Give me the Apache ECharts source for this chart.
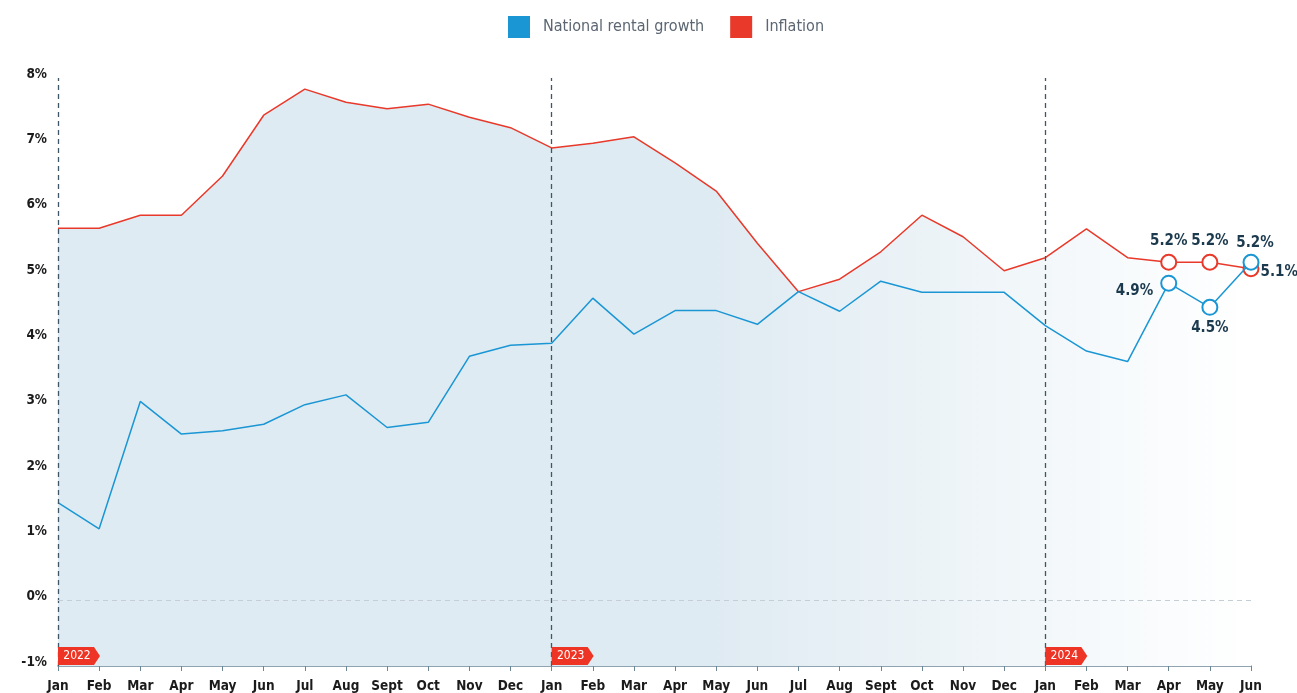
<!DOCTYPE html>
<html><head><meta charset="utf-8">
<script src="https://cdn.jsdelivr.net/npm/echarts@6/dist/echarts.min.js"></script>
<style>html,body{margin:0;padding:0;background:#fff}#c{width:1297px;height:693px}</style>
</head><body><div id="c"></div>
<script>
const months = ['Jan','Feb','Mar','Apr','May','Jun','Jul','Aug','Sept','Oct','Nov','Dec',
  'Jan','Feb','Mar','Apr','May','Jun','Jul','Aug','Sept','Oct','Nov','Dec',
  'Jan','Feb','Mar','Apr','May','Jun'];
const rental = [1.5,1.1,3.05,2.55,2.6,2.7,3.0,3.15,2.65,2.73,3.74,3.91,
  3.94,4.63,4.08,4.44,4.44,4.23,4.73,4.43,4.89,4.72,4.72,4.72,
  4.21,3.82,3.66,4.86,4.49,5.18];
const inflation = [5.7,5.7,5.9,5.9,6.5,7.43,7.83,7.63,7.53,7.6,7.4,7.24,
  6.93,7.0,7.1,6.7,6.27,5.47,4.73,4.92,5.34,5.9,5.57,5.05,
  5.25,5.69,5.25,5.18,5.18,5.08];
const yearStarts = [0,12,24];
const yearNames = ['2022','2023','2024'];
const yTicks = [-1,0,1,2,3,4,5,6,7,8];

const FONT = '"DejaVu Sans Condensed","Liberation Sans",Arial,sans-serif';
const labelColor = '#1c3a4e';

function items(arr, positions) {
  return arr.map((v,i)=>{
    const p = positions[i];
    if (!p) return {value:v, symbol:'none'};
    return {value:v, symbol:'emptyCircle', symbolSize:15,
      label:{show:true, position:p.pos, offset:p.off||[0,0], formatter:v.toFixed(1)+'%', color:labelColor,
        fontFamily:FONT, fontWeight:'bold', fontSize:15, distance:5}};
  });
}
const n = months.length;
const redPos = {}; redPos[n-3]={pos:'top'}; redPos[n-2]={pos:'top'}; redPos[n-1]={pos:'right', off:[-4,3]};
const bluePos = {}; bluePos[n-3]={pos:'left', off:[-2,8]}; bluePos[n-2]={pos:'bottom'}; bluePos[n-1]={pos:'top', off:[4,2]};

const chart = echarts.init(document.getElementById('c'));
chart.setOption({
  animation:false,
  legend:{top:11, left:503, icon:'rect', itemWidth:22, itemHeight:22, itemGap:26,
    textStyle:{fontFamily:FONT, fontSize:16, color:'#5b6672', padding:[0,0,0,8]},
    data:['National rental growth','Inflation']},
  grid:{left:58, right:46, top:78, bottom:27},
  xAxis:{type:'category', data:months, boundaryGap:false,
    axisLine:{onZero:false, lineStyle:{color:'#6b8796', width:1.5}},
    axisTick:{show:true, length:5, lineStyle:{color:'#6b8796'}},
    axisLabel:{interval:0, fontFamily:FONT, fontWeight:'bold', fontSize:13.5, color:'#1b1b1b', margin:13},
    splitLine:{show:false}},
  yAxis:{type:'value', min:-1, max:8, interval:1,
    axisLine:{show:false}, axisTick:{show:false}, splitLine:{show:false},
    axisLabel:{fontFamily:FONT, fontWeight:'bold', fontSize:13.5, color:'#1b1b1b', margin:11,
      verticalAlign:'bottom', lineHeight:8,
      formatter:v=>yTicks.includes(v)?v+'%':''}},
  series:[
    {name:'Inflation', type:'line', data:items(inflation, redPos), symbol:'none', showAllSymbol:true,
      color:'#ee3424',
      lineStyle:{color:'#e8392a', width:1.5},
      itemStyle:{color:'#e8392a', borderWidth:1.5},
      areaStyle:{origin:'start', opacity:1, color:{type:'linear', x:0, y:0, x2:1, y2:0,
        colorStops:[{offset:0,color:'#dfebf2'},{offset:0.55,color:'#dfebf2'},{offset:1,color:'#ffffff'}]}},
      emphasis:{disabled:true},
      markLine:{silent:true, symbol:['none','none'], label:{show:false},
        data:[
          ...yearStarts.map(i=>({xAxis:i, lineStyle:{color:'#3e5666', type:[5,4], width:1.3}})),
          [{coord:[0,0], lineStyle:{color:'#c5ced5', type:[5,4], width:1}},{coord:[months.length-1,0]}]
        ]},
      markPoint:{silent:true,
        data:yearStarts.map((i,k)=>({coord:[i,-1], value:yearNames[k],
          symbol:'path://M0,0 L36,0 L42,9 L36,18 L0,18 Z', symbolSize:[42,18], symbolKeepAspect:false,
          symbolOffset:[21,-10], itemStyle:{color:'#ee3424'},
          label:{show:true, position:'inside', offset:[-2,0], color:'#fff', fontFamily:FONT, fontSize:12, formatter:yearNames[k]}}))
      },
      z:2},
    {name:'National rental growth', type:'line', data:items(rental, bluePos), symbol:'none', showAllSymbol:true,
      color:'#0091d5',
      lineStyle:{color:'#1a96d4', width:1.5},
      itemStyle:{color:'#1a96d4', borderWidth:1.5},
      emphasis:{disabled:true},
      z:3}
  ]
});
</script></body></html>
